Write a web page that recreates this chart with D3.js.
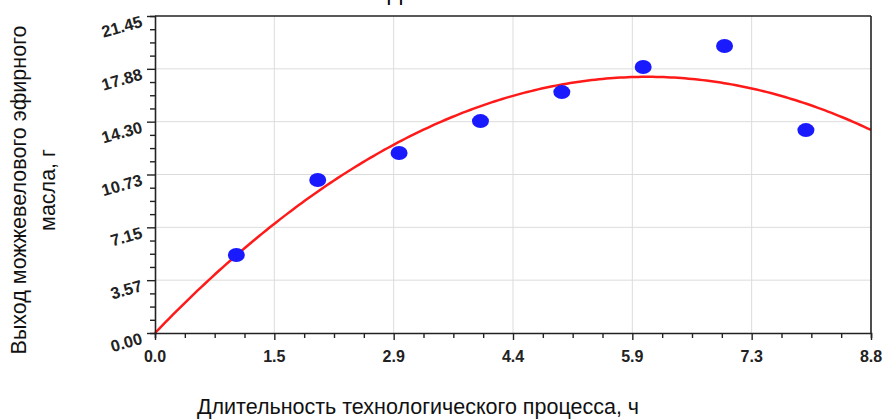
<!DOCTYPE html>
<html>
<head>
<meta charset="utf-8">
<script src="https://cdn.jsdelivr.net/npm/d3@7"></script>
<style>
  body { margin: 0; background: #fff; }
  svg { font-family: Arial, "Liberation Sans", sans-serif; }
</style>
</head>
<body>
<div id="chart"></div>
<script>
// measured points: process duration (h) vs. juniper oil yield (g)
var hours = [1, 2, 3, 4, 5, 6, 7, 8];
var yieldG = [5.28, 10.35, 12.18, 14.34, 16.3, 18.0, 19.42, 13.73];

// axis ticks as printed on the chart
var xTickLabels = ["0.0", "1.5", "2.9", "4.4", "5.9", "7.3", "8.8"];
var yTickLabels = ["0.00", "3.57", "7.15", "10.73", "14.30", "17.88", "21.45"];
var xMax = 8.8, yMax = 21.45;

var width = 884, height = 419;
var margin = {left: 155, right: 13, top: 16, bottom: 86};

var svg = d3.select("#chart").append("svg")
  .attr("width", width)
  .attr("height", height);

var x = d3.scaleLinear().domain([0, xMax]).range([margin.left, width - margin.right]);
var y = d3.scaleLinear().domain([0, yMax]).range([height - margin.bottom, margin.top]);

var nMajor = xTickLabels.length - 1;
var xMajor = d3.range(nMajor + 1).map(function(i){ return xMax * i / nMajor; });
var yMajor = d3.range(nMajor + 1).map(function(i){ return yMax * i / nMajor; });
var xMinor = d3.range(nMajor * 4 + 1).map(function(i){ return xMax * i / (nMajor * 4); });
var yMinor = d3.range(nMajor * 4 + 1).map(function(i){ return yMax * i / (nMajor * 4); });

// grid
svg.append("g").selectAll("line").data(xMajor.slice(1, -1)).enter().append("line")
  .attr("x1", x).attr("x2", x)
  .attr("y1", y(0)).attr("y2", y(yMax))
  .attr("stroke", "#dcdcdc").attr("stroke-width", 1);
svg.append("g").selectAll("line").data(yMajor.slice(1, -1)).enter().append("line")
  .attr("y1", y).attr("y2", y)
  .attr("x1", x(0)).attr("x2", x(xMax))
  .attr("stroke", "#dcdcdc").attr("stroke-width", 1);

// trend: least squares y = a*x + b*x^2 through origin, from the points
var s2 = d3.sum(hours, function(v){ return v * v; }),
    s3 = d3.sum(hours, function(v){ return v * v * v; }),
    s4 = d3.sum(hours, function(v){ return v * v * v * v; }),
    sxy = d3.sum(hours, function(v, i){ return v * yieldG[i]; }),
    sx2y = d3.sum(hours, function(v, i){ return v * v * yieldG[i]; });
var det = s2 * s4 - s3 * s3;
var a = (sxy * s4 - s3 * sx2y) / det,
    b = (s2 * sx2y - s3 * sxy) / det;
var fitX = d3.range(0, xMax + 0.001, xMax / 200);

svg.append("path")
  .datum(fitX)
  .attr("fill", "none")
  .attr("stroke", "#ff1a1a")
  .attr("stroke-width", 2.5)
  .attr("d", d3.line()
    .x(function(d){ return x(d); })
    .y(function(d){ return y(a * d + b * d * d); }));

// points
svg.append("g").selectAll("ellipse").data(hours).enter().append("ellipse")
  .attr("cx", function(d){ return x(d); })
  .attr("cy", function(d, i){ return y(yieldG[i]); })
  .attr("rx", 8.5).attr("ry", 7)
  .attr("fill", "#1a1aff");

// frame
var frame = svg.append("g").attr("stroke", "#222").attr("stroke-width", 1.6);
frame.append("line").attr("x1", x(0)).attr("x2", x(xMax)).attr("y1", y(yMax)).attr("y2", y(yMax));
frame.append("line").attr("x1", x(xMax)).attr("x2", x(xMax)).attr("y1", y(0)).attr("y2", y(yMax));

// axes
var xAxis = svg.append("g").attr("transform", "translate(0," + y(0) + ")");
xAxis.call(d3.axisBottom(x).tickValues(xMinor).tickSize(5).tickFormat(""));
xAxis.call(function(g){
  g.selectAll(".tick line").filter(function(d, i){ return i % 4 === 0; }).attr("y2", 7);
});
svg.append("g").selectAll("text").data(xMajor).enter().append("text")
  .attr("x", x)
  .attr("y", y(0) + 28.5)
  .attr("text-anchor", "middle")
  .attr("font-size", 16)
  .attr("font-weight", "bold")
  .attr("fill", "#222")
  .text(function(d, i){ return xTickLabels[i]; });

var yAxis = svg.append("g").attr("transform", "translate(" + x(0) + ",0)");
yAxis.call(d3.axisLeft(y).tickValues(yMinor).tickSize(5).tickFormat(""));
yAxis.call(function(g){
  g.selectAll(".tick line").filter(function(d, i){ return i % 4 === 0; }).attr("x2", -8);
});
svg.selectAll(".domain").attr("stroke", "#222").attr("stroke-width", 1.6);
svg.selectAll(".tick line").attr("stroke", "#222").attr("stroke-width", 1.4);

svg.append("g").selectAll("text").data(yMajor).enter().append("text")
  .attr("transform", function(d){ return "translate(" + (x(0) - 15) + "," + (y(d) - 1) + ") rotate(-16)"; })
  .attr("text-anchor", "end")
  .attr("dy", "0.72em")
  .attr("font-size", 16.5)
  .attr("font-weight", "bold")
  .attr("fill", "#222")
  .text(function(d, i){ return yTickLabels[i]; });

// titles
svg.append("text")
  .attr("x", 395).attr("y", 0)
  .attr("text-anchor", "middle")
  .attr("font-size", 21.5)
  .text("Д");

svg.append("text")
  .attr("x", 418).attr("y", 414)
  .attr("text-anchor", "middle")
  .attr("font-size", 21.5)
  .attr("fill", "#111")
  .text("Длительность технологического процесса, ч");

var yTitle = svg.append("text")
  .attr("transform", "translate(0,190) rotate(-90)")
  .attr("text-anchor", "middle")
  .attr("font-size", 21.5)
  .attr("fill", "#111");
yTitle.append("tspan").attr("x", 0).attr("y", 25.5).text("Выход можжевелового эфирного");
yTitle.append("tspan").attr("x", 0).attr("y", 54.5).text("масла, г");
</script>
</body>
</html>
